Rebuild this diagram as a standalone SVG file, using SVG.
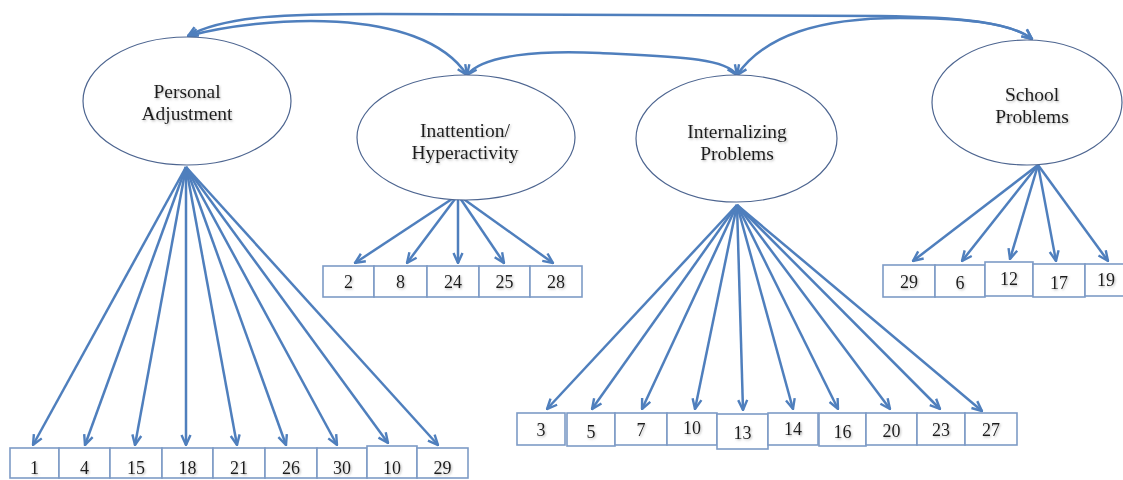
<svg xmlns="http://www.w3.org/2000/svg" width="1123" height="480" viewBox="0 0 1123 480">
<defs>
<marker id="arr" viewBox="0 0 12 12" refX="11" refY="6" markerWidth="12" markerHeight="12" markerUnits="userSpaceOnUse" orient="auto-start-reverse">
<path d="M1,1.5 L11,6 L1,10.5" fill="none" stroke="#4f7fbd" stroke-width="2.4" stroke-linejoin="miter"/>
</marker>
<filter id="sh" x="-10%" y="-20%" width="130%" height="150%">
<feDropShadow dx="1" dy="1.2" stdDeviation="0.9" flood-color="#777" flood-opacity="0.55"/>
</filter>
<style>
.conn{fill:none;stroke:#4f7fbd;stroke-width:2.5;marker-end:url(#arr)}
.cov{fill:none;stroke:#4f7fbd;stroke-width:2.5;marker-start:url(#arr);marker-end:url(#arr)}
.lat{fill:#fff;stroke:#4d6590;stroke-width:1.2}
.box{fill:#fff;stroke:#7d9bc6;stroke-width:1.6}
.lt{font-family:"Liberation Serif","Times New Roman",serif;font-size:19.5px;fill:#1a1a1a;text-anchor:middle;filter:url(#sh)}
.bt{font-family:"Liberation Serif","Times New Roman",serif;font-size:18px;fill:#1a1a1a;text-anchor:middle;filter:url(#sh)}
</style>
</defs>
<rect width="1123" height="480" fill="#fff"/>

<g id="connectors">
<path class="cov" d="M188,36 C225,15 290,14 380,14 L880,16 C960,17 1010,22 1032,39"/>
<path class="cov" d="M188,36 C260,17 420,4 467,75"/>
<path class="cov" d="M467,75 C482,55 540,50 600,53 C680,57 725,58 737,75"/>
<path class="cov" d="M737,75 C765,35 820,18 900,18 C960,18 1010,22 1032,39"/>
<path class="conn" d="M186,167 L33,445"/>
<path class="conn" d="M186,167 L85,445"/>
<path class="conn" d="M186,167 L135,445"/>
<path class="conn" d="M186,167 L186,445"/>
<path class="conn" d="M186,167 L237,445"/>
<path class="conn" d="M186,167 L286,445"/>
<path class="conn" d="M186,167 L337,445"/>
<path class="conn" d="M186,167 L388,443"/>
<path class="conn" d="M186,167 L438,445"/>
<path class="conn" d="M458,195 L355,263"/>
<path class="conn" d="M458,195 L407,263"/>
<path class="conn" d="M458,195 L458,263"/>
<path class="conn" d="M458,195 L504,263"/>
<path class="conn" d="M458,195 L553,263"/>
<path class="conn" d="M737,205 L547,409"/>
<path class="conn" d="M737,205 L592,409"/>
<path class="conn" d="M737,205 L642,409"/>
<path class="conn" d="M737,205 L695,409"/>
<path class="conn" d="M737,205 L743,410"/>
<path class="conn" d="M737,205 L793,409"/>
<path class="conn" d="M737,205 L838,409"/>
<path class="conn" d="M737,205 L890,409"/>
<path class="conn" d="M737,205 L940,409"/>
<path class="conn" d="M737,205 L982,411"/>
<path class="conn" d="M1038,165 L913,261"/>
<path class="conn" d="M1038,165 L962,261"/>
<path class="conn" d="M1038,165 L1010,259"/>
<path class="conn" d="M1038,165 L1056,261"/>
<path class="conn" d="M1038,165 L1108,261"/>
</g>

<g id="personal-adjustment">
<ellipse class="lat" cx="187" cy="101" rx="104" ry="64"/>
<text class="lt" x="187" y="98">Personal</text>
<text class="lt" x="187" y="120">Adjustment</text>
</g>
<g id="inattention-hyperactivity">
<ellipse class="lat" cx="466" cy="137.5" rx="109" ry="62.5"/>
<text class="lt" x="465" y="137">Inattention/</text>
<text class="lt" x="465" y="159">Hyperactivity</text>
</g>
<g id="internalizing-problems">
<ellipse class="lat" cx="736.5" cy="138.5" rx="100.5" ry="63.5"/>
<text class="lt" x="737" y="138">Internalizing</text>
<text class="lt" x="737" y="160">Problems</text>
</g>
<g id="school-problems">
<ellipse class="lat" cx="1027" cy="102.5" rx="95" ry="62.5"/>
<text class="lt" x="1032" y="101">School</text>
<text class="lt" x="1032" y="123">Problems</text>
</g>

<g id="pa-1"><rect class="box" x="10" y="448" width="49" height="30"/><text class="bt" x="34.5" y="474">1</text></g>
<g id="pa-4"><rect class="box" x="59" y="448" width="51" height="30"/><text class="bt" x="84.5" y="474">4</text></g>
<g id="pa-15"><rect class="box" x="110" y="448" width="52" height="30"/><text class="bt" x="136" y="474">15</text></g>
<g id="pa-18"><rect class="box" x="162" y="448" width="51" height="30"/><text class="bt" x="187.5" y="474">18</text></g>
<g id="pa-21"><rect class="box" x="213" y="448" width="52" height="30"/><text class="bt" x="239" y="474">21</text></g>
<g id="pa-26"><rect class="box" x="265" y="448" width="52" height="30"/><text class="bt" x="291" y="474">26</text></g>
<g id="pa-30"><rect class="box" x="317" y="448" width="50" height="30"/><text class="bt" x="342" y="474">30</text></g>
<g id="pa-10"><rect class="box" x="367" y="446" width="50" height="32"/><text class="bt" x="392" y="474">10</text></g>
<g id="pa-29"><rect class="box" x="417" y="448" width="51" height="30"/><text class="bt" x="442.5" y="474">29</text></g>

<g id="ih-2"><rect class="box" x="323" y="266" width="51" height="31"/><text class="bt" x="348.5" y="288">2</text></g>
<g id="ih-8"><rect class="box" x="374" y="266" width="53" height="31"/><text class="bt" x="400.5" y="288">8</text></g>
<g id="ih-24"><rect class="box" x="427" y="266" width="52" height="31"/><text class="bt" x="453" y="288">24</text></g>
<g id="ih-25"><rect class="box" x="479" y="266" width="51" height="31"/><text class="bt" x="504.5" y="288">25</text></g>
<g id="ih-28"><rect class="box" x="530" y="266" width="52" height="31"/><text class="bt" x="556" y="288">28</text></g>

<g id="ip-3"><rect class="box" x="517" y="413" width="48" height="32"/><text class="bt" x="541" y="436">3</text></g>
<g id="ip-5"><rect class="box" x="567" y="413" width="48" height="33"/><text class="bt" x="591" y="438">5</text></g>
<g id="ip-7"><rect class="box" x="615" y="413" width="52" height="32"/><text class="bt" x="641" y="436">7</text></g>
<g id="ip-10"><rect class="box" x="667" y="413" width="50" height="32"/><text class="bt" x="692" y="434">10</text></g>
<g id="ip-13"><rect class="box" x="717" y="414" width="51" height="35"/><text class="bt" x="742.5" y="439">13</text></g>
<g id="ip-14"><rect class="box" x="768" y="413" width="50" height="32"/><text class="bt" x="793" y="435">14</text></g>
<g id="ip-16"><rect class="box" x="819" y="413" width="47" height="33"/><text class="bt" x="842.5" y="438">16</text></g>
<g id="ip-20"><rect class="box" x="866" y="413" width="51" height="32"/><text class="bt" x="891.5" y="437">20</text></g>
<g id="ip-23"><rect class="box" x="917" y="413" width="48" height="32"/><text class="bt" x="941" y="436">23</text></g>
<g id="ip-27"><rect class="box" x="965" y="413" width="52" height="32"/><text class="bt" x="991" y="436">27</text></g>

<g id="sp-29"><rect class="box" x="883" y="265" width="52" height="32"/><text class="bt" x="909" y="288">29</text></g>
<g id="sp-6"><rect class="box" x="935" y="265" width="50" height="32"/><text class="bt" x="960" y="289">6</text></g>
<g id="sp-12"><rect class="box" x="985" y="262" width="48" height="34"/><text class="bt" x="1009" y="285">12</text></g>
<g id="sp-17"><rect class="box" x="1033" y="264" width="52" height="33"/><text class="bt" x="1059" y="289">17</text></g>
<g id="sp-19"><rect class="box" x="1085" y="264" width="40" height="32"/><text class="bt" x="1106" y="286">19</text></g>
</svg>
